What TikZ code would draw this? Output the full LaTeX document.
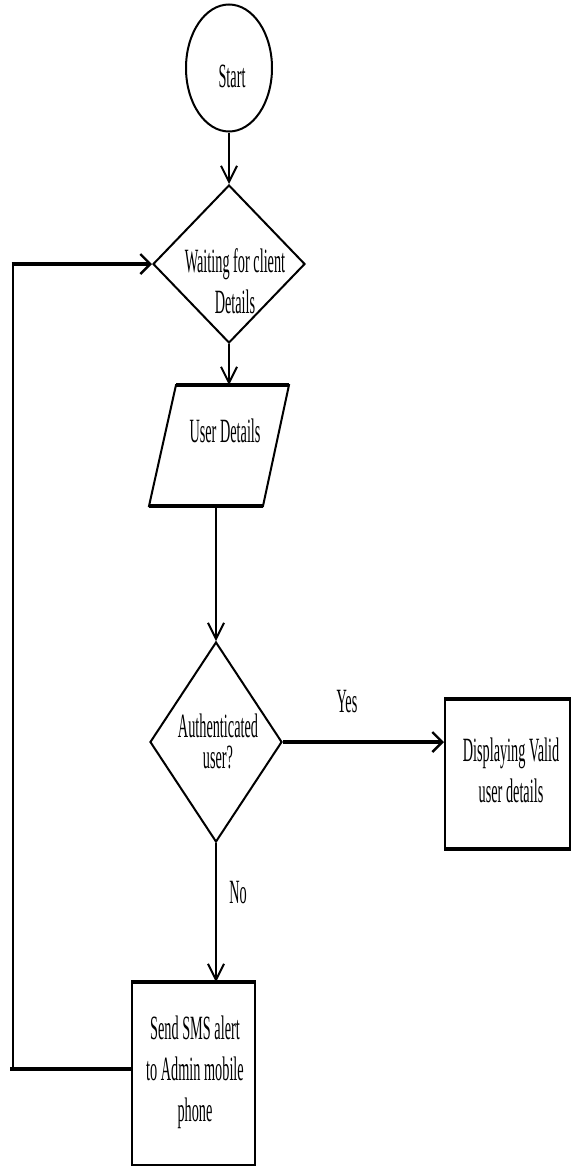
\documentclass[tikz,border=0pt]{standalone}
\usepackage{fontspec}
\setmainfont{Liberation Serif}
\newfontfamily\cf[FakeStretch=0.42]{Liberation Serif}
\usetikzlibrary{shapes.geometric,arrows.meta}
\begin{document}
\begin{tikzpicture}[x=1pt,y=-1pt,
  lbl/.style={font=\cf\fontsize{34}{41}\selectfont, inner sep=0pt, align=center},
  shp/.style={draw=black, line width=2pt, inner sep=0pt},
  edge/.style={line width=3.6pt},
  conn/.style={line width=1.6pt},
  hconn/.style={line width=3.2pt},
  vtip/.style={-{Straight Barb[length=16pt,width=16pt,line width=2pt]}},
  htip/.style={-{Straight Barb[length=10pt,width=20pt,line width=2.4pt]}}
]
\useasboundingbox (0,0) rectangle (572,1167);

% Start
\node[shp, ellipse, minimum width=86pt, minimum height=127pt] (start) at (229,68) {};
\node[lbl, anchor=base] (tstart) at (232,87) {Start};

% Waiting diamond
\node[shp, diamond, minimum width=152pt, minimum height=158pt] (d1) at (229,264) {};
\node[lbl] (td1) at (235,281) {Waiting for client\\Details};

% User details parallelogram
\draw[line width=2pt, line join=miter] (176,385) -- (289,385) -- (263,506) -- (149,506) -- cycle;
\draw[edge] (176,385) -- (289,385);
\draw[edge] (149,506) -- (263,506);
\coordinate (pt) at (229,385);
\coordinate (pb) at (216,506);
\node[lbl, anchor=base] (ud) at (225,442) {User Details};

% Authenticated diamond
\node[shp, diamond, minimum width=132pt, minimum height=200pt] (d2) at (216,742) {};
\node[lbl, font=\cf\fontsize{34}{31}\selectfont] (td2) at (218,741) {Authenticated\\user?};

% Display box
\node[shp, rectangle, minimum width=125pt, minimum height=148pt] (disp) at (507.5,774) {};
\draw[edge] (disp.north west) -- (disp.north east);
\draw[edge] (disp.south west) -- (disp.south east);
\node[lbl] (tdisp) at (511,770.5) {Displaying Valid\\user details};

% SMS box
\node[shp, rectangle, minimum width=123pt, minimum height=182pt] (sms) at (193.5,1074) {};
\draw[edge] (sms.north west) -- (sms.north east);
\node[lbl] (tsms) at (195,1072) {Send SMS alert\\to Admin mobile\\phone};

% labels
\node[lbl, anchor=base] (yes) at (347,712) {Yes};
\node[lbl, anchor=base] (no) at (238,903) {No};

% connectors
\draw[conn, vtip] (start.south) -- (d1.north);
\draw[conn, vtip] (d1.south) -- (pt);
\draw[conn, vtip] (pb) -- (d2.north);
\draw[hconn, htip] (d2.east) -- (d2.east -| disp.west);
\draw[conn, vtip] (d2.south) -- (d2.south |- sms.north);

% loop back
\coordinate (lb) at (13,1069);
\coordinate (lt) at (d1.west -| lb);
\draw[hconn] ([yshift=5pt]sms.west) -- (10,1069);
\draw[conn] (lb) -- (lt);
\draw[hconn, htip] ([xshift=-1.5pt]lt) -- (d1.west);
\end{tikzpicture}
\end{document}
